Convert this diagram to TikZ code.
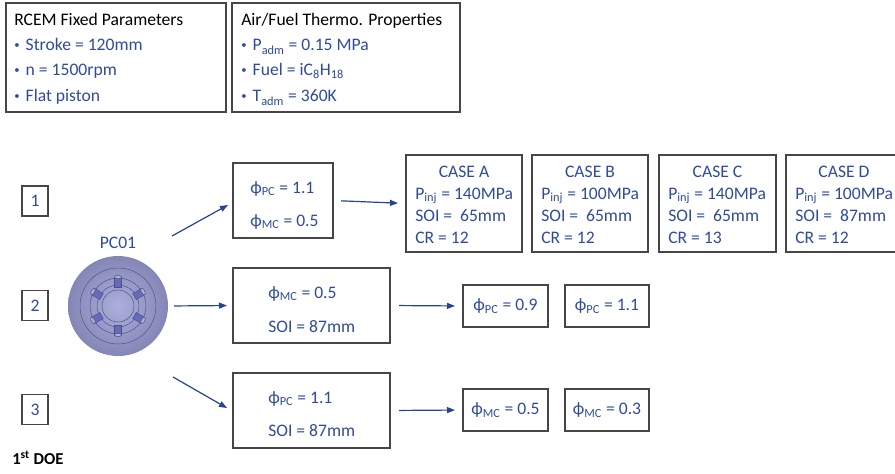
\documentclass[tikz,border=0pt]{standalone}
\usepackage{fontspec}
\setmainfont{Carlito}
\usetikzlibrary{arrows.meta,fit}

\definecolor{txtblue}{RGB}{47,75,155}
\definecolor{boxgray}{RGB}{70,70,70}
\definecolor{arrblue}{RGB}{38,68,150}
\definecolor{diskhi}{RGB}{172,175,220}
\definecolor{disklo}{RGB}{132,135,182}
\definecolor{diskedge}{RGB}{78,80,128}
\definecolor{nozzle}{RGB}{100,106,188}

\newcommand{\dotitem}{\raisebox{0.3ex}{\fontsize{8}{8}\selectfont•}\hspace{0.35em}}

\tikzset{
	box/.style={draw=boxgray, line width=0.95pt, inner sep=0pt, outer sep=0pt},
	val/.style={text=txtblue, inner sep=0pt, anchor=base west},
	flow/.style={draw=arrblue, line width=0.9pt, -{Triangle[length=6pt,width=4.5pt]}},
	diskline/.style={draw=diskedge, line width=0.35pt},
}

\begin{document}
\begin{tikzpicture}[x=0.75pt,y=-0.75pt,font=\fontsize{13.2}{16}\selectfont]
	\useasboundingbox (0,0) rectangle (895,474);
	\clip (0,0) rectangle (895,474);
	\begin{scope}
		\node (fixbox) [box, fit={(6,3) (226,112)}] {};
		\node (fixhead) at (14,26) [anchor=base west, inner sep=0pt] {RCEM Fixed Parameters};
		\node (stroke) at (14,51) [val] {\dotitem Stroke = 120mm};
		\node (speed) at (14,76) [val] {\dotitem n = 1500rpm};
		\node (piston) at (14,102) [val] {\dotitem Flat piston};
	\end{scope}
	\begin{scope}
		\node (thermobox) [box, fit={(232,3) (460,112)}] {};
		\node (thermohead) at (241,26) [anchor=base west, inner sep=0pt] {Air/Fuel Thermo. Properties};
		\node (padm) at (241,51) [val] {\dotitem P\textsubscript{adm} = 0.15 MPa};
		\node (fuel) at (241,76) [val] {\dotitem Fuel = iC\textsubscript{8}H\textsubscript{18}};
		\node (tadm) at (241,102) [val] {\dotitem T\textsubscript{adm} = 360K};
	\end{scope}

	\node (rowone) at (35,201) [box, text=txtblue, minimum width=19.5pt, minimum height=22.5pt] {1};
	\node (rowtwo) at (35,305.5) [box, text=txtblue, minimum width=19.5pt, minimum height=22.5pt] {2};
	\node (rowthree) at (35,409.5) [box, text=txtblue, minimum width=19.5pt, minimum height=22.5pt] {3};

	% piston crown
	\node (pclabel) at (118,243) [text=txtblue] {PC01};
	\begin{scope}[shift={(118,306)}]
		\node (pc) [circle, minimum size=75pt, inner sep=0pt, outer sep=0pt,
			shading=radial, inner color=diskhi, outer color=disklo] {};
		\draw[diskline] (0,0) circle (28.5pt);
		\draw[diskline] (0,0) circle (21pt);
		\draw[diskline] (0,0) circle (15.75pt);
		\draw[diskline] (0,0) circle (12pt);
		\foreach \a in {30,90,...,330}{
			\begin{scope}[rotate=\a]
				\filldraw[fill=nozzle, diskline] (19,-3.5) rectangle (29,3.5);
				\filldraw[fill=diskhi, diskline] (29,0) ellipse (1.3pt and 2.6pt);
			\end{scope}
		}
	\end{scope}

	\node (firstbox) [box, fit={(233,163) (333,238)}] {};
	\node (pcfirst) at (250,193) [val] {ϕ\textsubscript{PC} = 1.1};
	\node (mcfirst) at (250,226) [val] {ϕ\textsubscript{MC} = 0.5};

	\node (secondbox) [box, fit={(233,268) (390,343)}] {};
	\node (mcsecond) at (268,298) [val] {ϕ\textsubscript{MC} = 0.5};
	\node (soisecond) at (268,332) [val] {SOI = 87mm};

	\node (thirdbox) [box, fit={(233,373) (390,448)}] {};
	\node (pcthird) at (268,403) [val] {ϕ\textsubscript{PC} = 1.1};
	\node (soithird) at (268,436) [val] {SOI = 87mm};

	% injection cases
	\begin{scope}
		\node (casea) [box, fit={(406,155) (522,252)}] {};
		\node (casealab) at (464,177) [anchor=base, inner sep=0pt, text=txtblue] {CASE A};
		\node at (415,199) [val] {P\textsubscript{inj} = 140MPa};
		\node at (415,221) [val] {SOI =\ \ 65mm};
		\node at (415,243) [val] {CR = 12};
	\end{scope}
	\begin{scope}[shift={(126,0)}]
		\node (caseb) [box, fit={(406,155) (522,252)}] {};
		\node (caseblab) at (464,177) [anchor=base, inner sep=0pt, text=txtblue] {CASE B};
		\node at (415,199) [val] {P\textsubscript{inj} = 100MPa};
		\node at (415,221) [val] {SOI =\ \ 65mm};
		\node at (415,243) [val] {CR = 12};
	\end{scope}
	\begin{scope}[shift={(253,0)}]
		\node (casec) [box, fit={(406,155) (523,252)}] {};
		\node (caseclab) at (464.5,177) [anchor=base, inner sep=0pt, text=txtblue] {CASE C};
		\node at (415,199) [val] {P\textsubscript{inj} = 140MPa};
		\node at (415,221) [val] {SOI =\ \ 65mm};
		\node at (415,243) [val] {CR = 13};
	\end{scope}
	\begin{scope}[shift={(380,0)}]
		\node (cased) [box, fit={(406,155) (530,252)}] {};
		\node (casedlab) at (464,177) [anchor=base, inner sep=0pt, text=txtblue] {CASE D};
		\node at (415,199) [val] {P\textsubscript{inj} = 100MPa};
		\node at (415,221) [val] {SOI =\ \ 87mm};
		\node at (415,243) [val] {CR = 12};
	\end{scope}

	\node (pcnine) at (505.5,306) [box, text=txtblue, minimum width=63.75pt, minimum height=31.5pt] {ϕ\textsubscript{PC} = 0.9};
	\node (pcone) at (607,306) [box, text=txtblue, minimum width=63pt, minimum height=31.5pt] {ϕ\textsubscript{PC} = 1.1};
	\node (mchalf) at (505.5,410) [box, text=txtblue, minimum width=63.75pt, minimum height=31.5pt] {ϕ\textsubscript{MC} = 0.5};
	\node (mcthree) at (607,410) [box, text=txtblue, minimum width=63pt, minimum height=31.5pt] {ϕ\textsubscript{MC} = 0.3};

	\coordinate (upstart) at (172,236);
	\coordinate (upend) at (228,205);
	\coordinate (downstart) at (173,377);
	\coordinate (downend) at (227,408);
	\draw[flow] (upstart) -- (upend);
	\draw[flow, shorten <=4.5pt, shorten >=4.5pt] (pc.east) -- (secondbox.west);
	\draw[flow] (downstart) -- (downend);
	\draw[flow, shorten <=6pt, shorten >=6pt] (firstbox.east) -- (casea.west);
	\draw[flow, shorten <=6.75pt, shorten >=6pt] (secondbox.east) -- (pcnine.west);
	\draw[flow, shorten <=6.75pt, shorten >=6pt] (thirdbox.east) -- (mchalf.west);

	\node (doe) at (12,464) [anchor=base west, inner sep=0pt] {\fontsize{12.5}{14}\selectfont\bfseries 1\textsuperscript{st} DOE};
\end{tikzpicture}
\end{document}
